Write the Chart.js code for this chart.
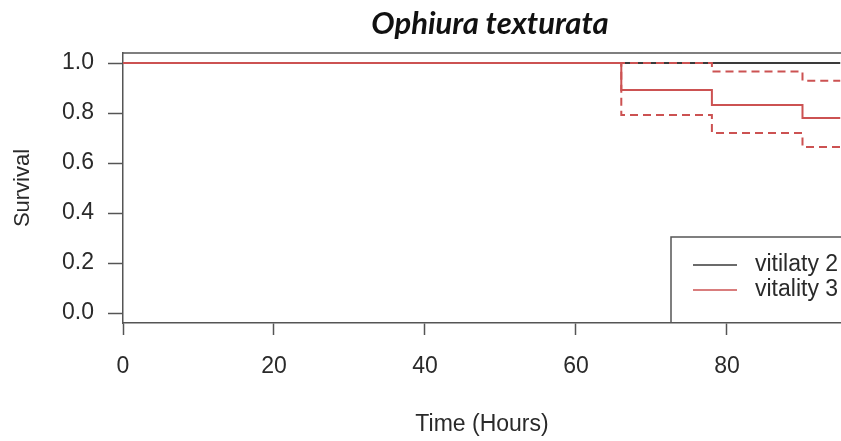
<!DOCTYPE html>
<html>
<head>
<meta charset="utf-8">
<script src="https://cdn.jsdelivr.net/npm/chart.js@4/dist/chart.umd.min.js"></script>
<style>
  html, body { margin: 0; padding: 0; background: #fff; }
  #wrap { width: 841px; height: 441px; }
</style>
</head>
<body>
<div id="wrap"><canvas id="survChart" width="841" height="441"></canvas></div>
<script>
// Kaplan-Meier estimates (hours vs. survival)
const titleText = "Ophiura texturata";
const xTicks = [0, 20, 40, 60, 80];
const yTicks = [0, 0.2, 0.4, 0.6, 0.8, 1.0];

const v2Times = [0, 95];
const v2Surv = [1.0, 1.0];

const v3Times = [0, 66, 78, 90, 95];
const v3Surv = [1.0, 0.892, 0.832, 0.78, 0.78];
const v3Upper = [1.0, 1.0, 0.966, 0.929, 0.929];
const v3Lower = [1.0, 0.792, 0.72, 0.664, 0.664];

const seriesLabels = ["vitilaty 2", "vitality 3"];

const BLACK = "#3a3a3a";
const RED = "#cc5252";
const AXIS = "#555";
const TEXT = "#2a2a2a";
const FONT = "'Liberation Sans', Arial, sans-serif";

const toPoints = (xs, ys) => xs.map((x, i) => ({ x, y: ys[i] }));

// top frame line, title and boxed legend (R-style plot)
const framePlugin = {
  id: "frame",
  afterDraw(chart) {
    const { ctx, chartArea } = chart;
    ctx.save();
    ctx.strokeStyle = AXIS;
    ctx.lineWidth = 1.5;
    ctx.beginPath();
    ctx.moveTo(chartArea.left, chartArea.top);
    ctx.lineTo(chartArea.right + 2, chartArea.top);
    ctx.stroke();

    ctx.fillStyle = "#111";
    ctx.font = "italic bold 31px Lato, 'Open Sans', sans-serif";
    ctx.textAlign = "center";
    ctx.textBaseline = "middle";
    ctx.fillText(titleText, 490, 24);

    // legend box
    const bx = 671, by = 237;
    ctx.strokeStyle = AXIS;
    ctx.lineWidth = 1.5;
    ctx.beginPath();
    ctx.moveTo(bx, chartArea.bottom);
    ctx.lineTo(bx, by);
    ctx.lineTo(chart.width + 2, by);
    ctx.stroke();

    ctx.font = "23px " + FONT;
    ctx.textAlign = "left";
    const entries = chart.data.datasets.filter((d) => d.legendLabel);
    entries.forEach((d, i) => {
      const y = 265 + i * 25;
      ctx.strokeStyle = d.borderColor;
      ctx.lineWidth = 1.5;
      ctx.setLineDash([]);
      ctx.beginPath();
      ctx.moveTo(693, y);
      ctx.lineTo(737, y);
      ctx.stroke();
      ctx.fillStyle = TEXT;
      ctx.fillText(d.legendLabel, 755, y);
    });
    ctx.restore();
  },
};

new Chart(document.getElementById("survChart"), {
  type: "line",
  data: {
    datasets: [
      {
        legendLabel: seriesLabels[0],
        data: toPoints(v2Times, v2Surv),
        borderColor: BLACK,
        borderWidth: 2,
        stepped: true,
        pointRadius: 0,
        order: 4,
      },
      {
        data: toPoints(v3Times, v3Upper),
        borderColor: RED,
        borderWidth: 2,
        borderDash: [8, 5],
        stepped: true,
        pointRadius: 0,
        order: 2,
      },
      {
        data: toPoints(v3Times, v3Lower),
        borderColor: RED,
        borderWidth: 2,
        borderDash: [8, 5],
        stepped: true,
        pointRadius: 0,
        order: 3,
      },
      {
        legendLabel: seriesLabels[1],
        data: toPoints(v3Times, v3Surv),
        borderColor: RED,
        borderWidth: 2,
        stepped: true,
        pointRadius: 0,
        order: 1,
      },
    ],
  },
  options: {
    responsive: false,
    animation: false,
    layout: { padding: { top: 53, right: 0, bottom: 0, left: 0 } },
    plugins: {
      legend: { display: false },
      tooltip: { enabled: false },
      title: { display: false },
    },
    scales: {
      x: {
        type: "linear",
        min: 0,
        max: 95.1,
        afterFit: (scale) => { scale.height = 118; },
        afterBuildTicks: (scale) => { scale.ticks = xTicks.map((value) => ({ value })); },
        grid: {
          drawOnChartArea: false,
          drawTicks: true,
          tickLength: 12,
          tickWidth: 1.5,
          tickColor: AXIS,
        },
        border: { display: true, color: AXIS, width: 1.5 },
        ticks: {
          color: TEXT,
          padding: 18,
          font: { family: FONT, size: 23 },
          maxRotation: 0,
        },
        title: {
          display: true,
          text: "Time (Hours)",
          color: TEXT,
          font: { family: FONT, size: 23 },
          padding: { top: 0, bottom: 3 },
        },
      },
      y: {
        min: -0.04,
        max: 1.04,
        afterFit: (scale) => { scale.width = 123; },
        afterBuildTicks: (scale) => { scale.ticks = yTicks.map((value) => ({ value })); },
        grid: {
          drawOnChartArea: false,
          drawTicks: true,
          tickLength: 15,
          tickWidth: 1.5,
          tickColor: AXIS,
        },
        border: { display: true, color: AXIS, width: 1.5 },
        ticks: {
          color: TEXT,
          padding: 14,
          font: { family: FONT, size: 23 },
          callback: (v) => v.toFixed(1),
        },
        title: {
          display: true,
          text: "Survival",
          color: TEXT,
          font: { family: FONT, size: 22 },
          padding: { top: 10, bottom: 0 },
        },
      },
    },
  },
  plugins: [framePlugin],
});
</script>
</body>
</html>
